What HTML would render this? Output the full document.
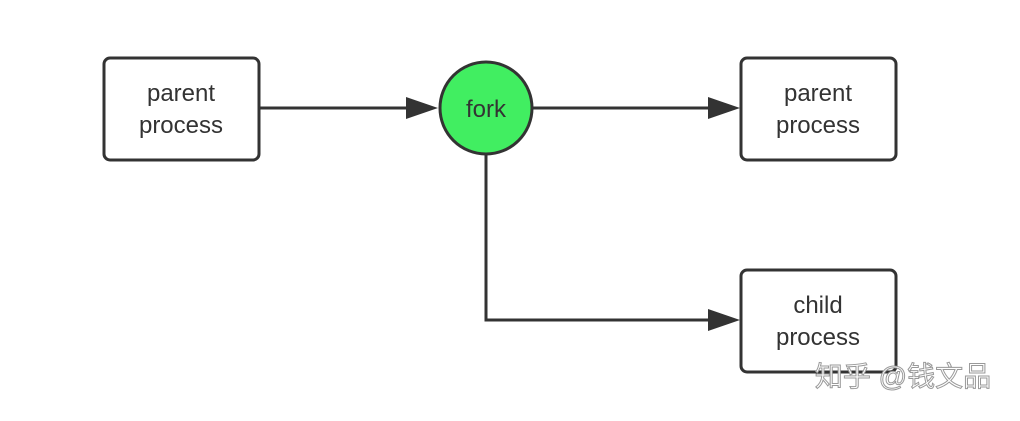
<!DOCTYPE html>
<html><head><style>
body{margin:0;background:#fff;}
svg text{font-family:"Liberation Sans",sans-serif;}
</style></head><body>
<svg width="1020" height="416" viewBox="0 0 1020 416" xmlns="http://www.w3.org/2000/svg">
<g stroke="#333" stroke-width="3" fill="none">
<line x1="259" y1="108" x2="410" y2="108"/>
<path d="M406,97 L438,108 L406,119z" fill="#333" stroke="none"/>
<line x1="532" y1="108" x2="712" y2="108"/>
<path d="M708,97 L740,108 L708,119z" fill="#333" stroke="none"/>
<polyline points="486,155 486,320 712,320"/>
<path d="M708,309 L740,320 L708,331z" fill="#333" stroke="none"/>
<rect x="104" y="58" width="155" height="102" rx="6" fill="#fff"/>
<rect x="741" y="58" width="155" height="102" rx="6" fill="#fff"/>
<rect x="741" y="270" width="155" height="102" rx="6" fill="#fff"/>
<circle cx="486" cy="108" r="46" fill="#41ee61"/>
</g>
<g font-size="24" fill="#333" text-anchor="middle">
<text x="181" y="101">parent</text><text x="181" y="133">process</text>
<text x="818" y="101">parent</text><text x="818" y="133">process</text>
<text x="818" y="313">child</text><text x="818" y="345">process</text>
<text x="486" y="117">fork</text>
</g>
<text x="903" y="386" font-size="28" fill="#fff" stroke="#999" stroke-width="1" text-anchor="middle" style="font-family:'Liberation Sans','Noto Sans CJK SC',sans-serif">知乎 @钱文品</text>
</svg>
</body></html>
